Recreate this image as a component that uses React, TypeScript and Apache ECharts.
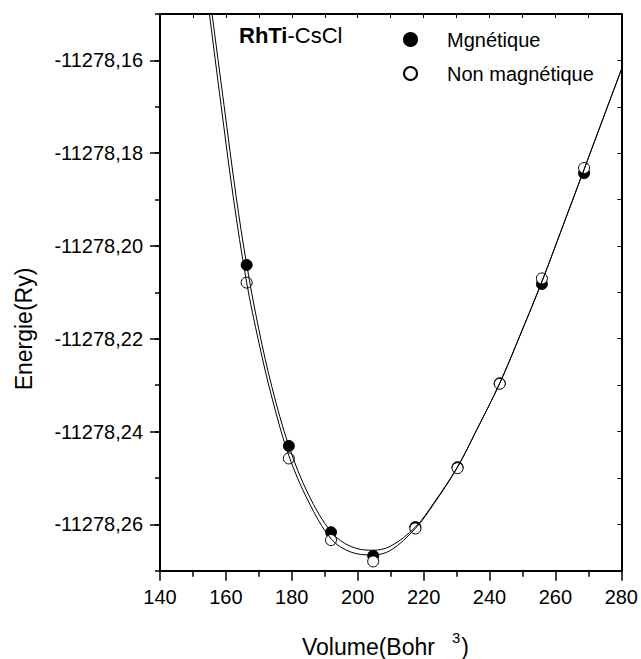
import React, { useEffect, useRef } from "react";
import * as echarts from "echarts";

// Measured points (Volume in Bohr^3, Energy in Ry)
const volumes = [166.3, 179.1, 191.9, 204.7, 217.5, 230.3, 243.1, 255.9, 268.7];
const magnetic = [-11278.2041, -11278.2431, -11278.2617, -11278.2668, -11278.2606, -11278.2477, -11278.2296, -11278.2082, -11278.1843];
const nonMagnetic = [-11278.2079, -11278.2458, -11278.2634, -11278.2680, -11278.2609, -11278.2479, -11278.2297, -11278.2070, -11278.1832];

// Fitted curves
const magFitV = [154.7, 155.8, 159.4, 163.1, 166.3, 170.0, 174.0, 179.1, 185.0, 192.0, 198.0, 204.5, 210.0, 217.5, 223.0, 230.3, 236.0, 243.1, 250.0, 256.0, 262.0, 268.7, 275.0, 280.0];
const magFitE = [-11278.1440, -11278.1500, -11278.1695, -11278.1893, -11278.2040, -11278.2180, -11278.2305, -11278.2431, -11278.2535, -11278.2617, -11278.2648, -11278.2656, -11278.2647, -11278.2606, -11278.2555, -11278.2476, -11278.2398, -11278.2296, -11278.2180, -11278.2075, -11278.1962, -11278.1835, -11278.1715, -11278.1620];
const nmFitV = [153.9, 155.0, 158.5, 162.2, 166.3, 170.0, 174.0, 179.1, 185.0, 192.0, 198.0, 204.5, 210.0, 217.5, 223.0, 230.3, 236.0, 243.1, 250.0, 256.0, 262.0, 268.7, 275.0, 280.0];
const nmFitE = [-11278.1440, -11278.1500, -11278.1695, -11278.1893, -11278.2079, -11278.2208, -11278.2328, -11278.2452, -11278.2550, -11278.2632, -11278.2660, -11278.2666, -11278.2656, -11278.2609, -11278.2557, -11278.2477, -11278.2398, -11278.2296, -11278.2180, -11278.2075, -11278.1962, -11278.1835, -11278.1715, -11278.1620];

const yTickLabels = [-11278.26, -11278.24, -11278.22, -11278.2, -11278.18, -11278.16];
const seriesNames = ["Mgnétique", "Non magnétique"];

const FONT = '"Liberation Sans", Arial, sans-serif';

export default function App() {
  const ref = useRef<HTMLDivElement>(null);
  useEffect(() => {
    if (!ref.current) return;
    const chart = echarts.init(ref.current, null, { renderer: "svg" });
    const pairs = (xs: number[], ys: number[]) => xs.map((x, i) => [x, ys[i]]);
    const yMin = -11278.27;
    const yMax = -11278.15;
    const option: any = {
      animation: false,
      backgroundColor: "#fff",
      textStyle: { fontFamily: FONT, color: "#000" },
      title: {
        text: "{b|RhTi}{n|-CsCl}",
        left: 239,
        top: 24,
        padding: 0,
        textStyle: {
          fontWeight: "normal",
          rich: {
            b: { fontWeight: "bold", fontSize: 22, fontFamily: FONT, color: "#000" },
            n: { fontWeight: "normal", fontSize: 22, fontFamily: FONT, color: "#000" },
          },
        },
      },
      legend: {
        data: seriesNames.map((n) => ({ name: n, icon: "circle" })),
        orient: "vertical",
        left: 403,
        top: 29.5,
        padding: 0,
        itemWidth: 63,
        itemHeight: 13,
        itemGap: 14,
        textStyle: { fontSize: 20, color: "#000", fontFamily: FONT },
      },
      grid: { left: 160, top: 14, width: 462.7, height: 556.7, containLabel: false },
      xAxis: [
        {
          type: "value",
          position: "bottom",
          min: 140,
          max: 280,
          interval: 20,
          axisLine: { show: true, lineStyle: { color: "#000", width: 2 } },
          axisTick: { show: true, length: 10, lineStyle: { color: "#000", width: 1.5 } },
          minorTick: { show: true, splitNumber: 2, length: 6, lineStyle: { color: "#000", width: 1.5 } },
          axisLabel: { fontSize: 20, margin: 16, color: "#000", fontFamily: FONT },
          splitLine: { show: false },
        },
        {
          type: "value",
          position: "top",
          min: 140,
          max: 280,
          interval: 20,
          axisLine: { show: true, onZero: false, lineStyle: { color: "#000", width: 2 } },
          axisTick: { show: true, inside: true, length: 4, lineStyle: { color: "#000", width: 1 } },
          minorTick: { show: true, splitNumber: 2, length: 4, lineStyle: { color: "#000", width: 1 } },
          axisLabel: { show: false },
          splitLine: { show: false },
        },
      ],
      yAxis: [
        {
          type: "value",
          position: "left",
          min: yMin,
          max: yMax,
          interval: 0.01,
          axisLine: { show: true, onZero: false, lineStyle: { color: "#000", width: 2 } },
          axisTick: { show: true, length: 10, customValues: yTickLabels, lineStyle: { color: "#000", width: 1.5 } },
          axisLabel: {
            customValues: yTickLabels,
            fontSize: 20,
            margin: 17,
            color: "#000",
            fontFamily: FONT,
            formatter: (v: number) => v.toFixed(2).replace(".", ","),
          },
          splitLine: { show: false },
        },
        {
          type: "value",
          position: "left",
          min: yMin,
          max: yMax,
          interval: 0.01,
          axisLine: { show: false, onZero: false },
          axisTick: { show: true, length: 5, lineStyle: { color: "#000", width: 1.5 } },
          axisLabel: { show: false },
          splitLine: { show: false },
        },
        {
          type: "value",
          position: "right",
          min: yMin,
          max: yMax,
          interval: 0.01,
          axisLine: { show: true, onZero: false, lineStyle: { color: "#000", width: 2 } },
          axisTick: { show: true, inside: true, length: 4, lineStyle: { color: "#000", width: 1 } },
          axisLabel: { show: false },
          splitLine: { show: false },
        },
      ],
      graphic: [
        {
          type: "text",
          x: 24,
          y: 329,
          rotation: Math.PI / 2,
          style: {
            text: "Energie(Ry)",
            font: `23px ${FONT}`,
            fill: "#000",
            align: "center",
            verticalAlign: "middle",
          },
        },
        {
          type: "text",
          left: 302,
          top: 630,
          style: {
            text: "{n|Volume(Bohr}{s|3}{n|)}",
            fill: "#000",
            rich: {
              n: { fontSize: 23, fontFamily: FONT, lineHeight: 28, verticalAlign: "bottom", fill: "#000" },
              s: { fontSize: 15, fontFamily: FONT, lineHeight: 15, verticalAlign: "top", padding: [0, 1, 0, 17], fill: "#000" },
            },
          },
        },
      ],
      series: [
        {
          name: seriesNames[0],
          type: "scatter",
          symbol: "circle",
          symbolSize: 11,
          itemStyle: { color: "#000", borderColor: "#000", borderWidth: 1, opacity: 1 },
          data: pairs(volumes, magnetic),
        },
        {
          name: seriesNames[1],
          type: "scatter",
          symbol: "circle",
          symbolSize: 11,
          itemStyle: { color: "#fff", borderColor: "#000", borderWidth: 1, opacity: 1 },
          data: pairs(volumes, nonMagnetic),
        },
        {
          name: "fitM",
          type: "line",
          smooth: 0.35,
          showSymbol: false,
          symbol: "none",
          clip: true,
          lineStyle: { color: "#000", width: 1 },
          data: pairs(magFitV, magFitE),
        },
        {
          name: "fitNM",
          type: "line",
          smooth: 0.35,
          showSymbol: false,
          symbol: "none",
          clip: true,
          lineStyle: { color: "#000", width: 1 },
          data: pairs(nmFitV, nmFitE),
        },
      ],
    };
    chart.setOption(option);
    return () => chart.dispose();
  }, []);
  return (
    <div
      ref={ref}
      style={{ position: "fixed", left: 0, top: 0, width: 641, height: 659, background: "#fff" }}
    />
  );
}
